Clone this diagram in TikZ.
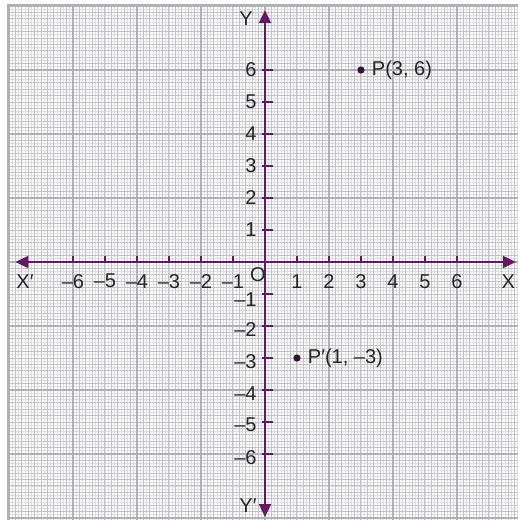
\documentclass[tikz,border=0pt]{standalone}
\usepackage{fontspec}
\setmainfont{Liberation Sans}
\usetikzlibrary{arrows.meta}
\definecolor{axiscol}{RGB}{100,24,100}
\definecolor{dotcol}{RGB}{55,18,55}
\definecolor{gmaj}{RGB}{176,176,184}
\definecolor{gmid}{RGB}{194,194,200}
\definecolor{gmin}{RGB}{221,221,226}
\begin{document}
\begin{tikzpicture}[x=16pt,y=16pt,
  lbl/.style={font=\fontsize{10}{12}\selectfont, text=black!85, inner sep=0pt},
  axisline/.style={draw=axiscol, line width=1pt, {Triangle[length=6.5pt,width=6pt]}-{Triangle[length=6.5pt,width=6pt]}},
  tickline/.style={draw=axiscol, line width=0.75pt},
  ptdot/.style={circle, fill=dotcol, inner sep=0pt, minimum size=3.6pt}]
\useasboundingbox (-8.28125,-8.0625) rectangle (7.90625,8.1875);
\begin{scope}
  \clip (-8.28125,-8.0625) rectangle (7.90625,8.1875);
  \draw[gmin, line width=0.45pt] (-8,-8.2) grid[step=0.1] (8.2,8);
  \draw[gmid, line width=0.5pt] (-8,-8.2) grid[step=0.2] (8.2,8);
  \draw[gmaj, line width=1pt] (-8,-8.2) grid[step=2] (8.2,8);
  \draw[gmaj, line width=1.5pt] (-8,-8.2) -- (-8,8) -- (8.2,8);
\end{scope}
% axes
\coordinate (xl) at (-7.8,0);
\coordinate (xr) at (7.84,0);
\coordinate (yt) at (0,7.87);
\coordinate (yb) at (0,-7.97);
\draw[axisline] (xl) -- (xr);
\draw[axisline] (yb) -- (yt);
% x ticks and labels
\foreach \i in {1,...,6}{
  \coordinate (txp\i) at (\i,0);
  \draw[tickline] (txp\i) -- ++(0,0.2);
  \node[lbl] (lxp\i) at (\i,-0.62) {\i};
  \coordinate (txn\i) at (-\i,0);
  \draw[tickline] (txn\i) -- ++(0,0.2);
  \node[lbl] (lxn\i) at (-\i,-0.6) {–\i};
}
% y ticks and labels
\foreach \j in {1,...,6}{
  \coordinate (typ\j) at (-0.1,\j);
  \draw[tickline] (typ\j) -- ++(0.35,0);
  \node[lbl, anchor=east] (lyp\j) at (-0.25,\j) {\j};
  \coordinate (tyn\j) at (-0.1,-\j);
  \draw[tickline] (tyn\j) -- ++(0.35,0);
}
\foreach \j/\dy in {1/0.17,2/0.1,3/0.1,4/0.1,5/0.1,6/0.1}{
  \node[lbl, anchor=east] (lyn\j) at (-0.25,-\j-\dy) {–\j};
}
% axis names
\node[lbl] (xname) at (7.6,-0.62) {X};
\node[lbl] (xpname) at (-7.5,-0.62) {X′};
\node[lbl] (yname) at (-0.59,7.62) {Y};
\node[lbl] (ypname) at (-0.53,-7.6) {Y′};
\node[lbl] (origin) at (-0.22,-0.38) {O};
% points
\node[ptdot] (P) at (3,6) {};
\node[lbl, anchor=west] (Plbl) at (3.33,6) {P(3, 6)};
\node[ptdot] (Pp) at (1,-3) {};
\node[lbl, anchor=west] (Pplbl) at (1.33,-3) {P′(1, –3)};
\end{tikzpicture}
\end{document}
